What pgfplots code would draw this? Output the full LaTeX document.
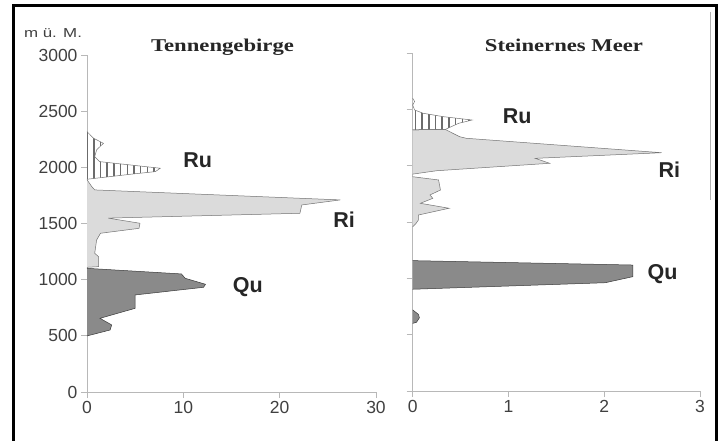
\documentclass[border=0pt]{standalone}
\usepackage{graphicx}
\usepackage{pgfplots}
\pgfplotsset{compat=1.18}
\usetikzlibrary{patterns.meta}
\usepackage{fontspec}
\setmainfont{Liberation Sans}
\newfontfamily\serifb{Liberation Serif}

\definecolor{axgray}{gray}{0.72}
\definecolor{txtgray}{gray}{0.25}
\definecolor{qufill}{gray}{0.54}
\definecolor{rifill}{gray}{0.86}
\definecolor{edge}{gray}{0.45}
\definecolor{hatch}{gray}{0.42}

\pgfplotsset{myaxis/.style={
  scale only axis, axis lines=left,
  axis line style={draw=axgray, line width=0.9bp, -},
  tick style={draw=axgray, line width=0.9bp},
  tick align=outside, major tick length=6bp,
  ymin=0, ymax=3000, ytick={0,500,...,3000},
  clip=false,
  font=\fontsize{17.5bp}{19bp}\selectfont,
  every tick label/.append style={font=\fontsize{17.5bp}{19bp}\selectfont, text=txtgray},
  /pgf/number format/assume math mode=true,
  scaled ticks=false, /pgf/number format/1000 sep={},
  anchor=south west},
  qu/.style={fill=qufill, draw=gray!45!black, line width=0.5bp},
  ri/.style={fill=rifill, draw=edge, line width=0.5bp},
  ru/.style={pattern={Lines[angle=90,distance=6.7bp,line width=1.5bp]}, pattern color=hatch, draw=edge, line width=0.5bp}
}
\tikzset{lab/.style={font=\bfseries\fontsize{21.5bp}{22bp}\selectfont, text=black!85}}

\begin{document}
\begin{tikzpicture}
\path[use as bounding box] (0,0) rectangle (724bp,441bp);

% Tennengebirge
\begin{axis}[myaxis, at={(87bp,49bp)}, width=289bp, height=337bp,
  xmin=0, xmax=30, xtick={0,10,20,30}]
\addplot[qu] coordinates {(0,1101) (9.8,1051) (10.2,1012) (12.3,959) (12.1,932) (5.0,864) (5.0,745) (1.35,656) (2.56,597) (2.4,552) (0,499)};
\addplot[ri] coordinates {(0,1890) (0.5,1828) (0.8,1799) (26.3,1710) (22.3,1665) (22.1,1591) (2.2,1548) (5.5,1502) (5.4,1457) (1.4,1413) (1.0,1353) (0.8,1235) (1.2,1205) (1.2,1116) (0,1110)};
\addplot[ru] coordinates {(0,2318) (0.68,2259) (1.7,2214) (1.0,2155) (0.8,2095) (1.3,2051) (7.6,1992) (7.1,1962) (4.8,1941) (0,1894)};
\node[lab] at (axis cs:11.5,2061) {Ru};
\node[lab] at (axis cs:26.7,1531) {Ri};
\node[lab] at (axis cs:16.7,935) {Qu};
\end{axis}

% Steinernes Meer
\begin{axis}[myaxis, at={(412.7bp,50bp)}, width=287.3bp, height=338bp,
  xmin=0, xmax=3, xtick={0,1,2,3}, yticklabels={}]
\addplot[qu] coordinates {(0,1157) (2.30,1118) (2.30,1015) (2.01,961) (0,903)};
\addplot[qu] coordinates {(0,720) (0.06,680) (0.07,650) (0.04,610) (0,600)};
\addplot[ri] coordinates {(0,2318) (0.34,2322) (0.42,2287) (0.49,2257) (0.56,2243) (2.60,2115) (1.28,2065) (1.43,2021) (0.25,1955) (0,1925)};
\addplot[ri] coordinates {(0,1902) (0.27,1873) (0.29,1784) (0.18,1740) (0.21,1710) (0.08,1666) (0.38,1622) (0.06,1562) (0.06,1518) (0.03,1482) (0,1458)};
\addplot[ru] coordinates {(0,2598) (0.02,2570) (0,2538) (0.02,2494) (0.11,2465) (0.32,2435) (0.62,2405) (0.48,2376) (0.34,2322) (0,2318)};
\node[lab] at (axis cs:1.09,2435) {Ru};
\node[lab] at (axis cs:2.68,1961) {Ri};
\node[lab] at (axis cs:2.61,1034) {Qu};
\end{axis}

% titles and unit label
\node[anchor=base, text=black!85, font=\serifb\bfseries\fontsize{18bp}{20bp}\selectfont] at (222.5bp,389bp) {\scalebox{1.26}[1]{Tennengebirge}};
\node[anchor=base, text=black!85, font=\serifb\bfseries\fontsize{18bp}{20bp}\selectfont] at (564bp,389.3bp) {\scalebox{1.26}[1]{Steinernes Meer}};
\node[text=txtgray, font=\fontsize{13bp}{14bp}\selectfont] at (53bp,408bp) {\scalebox{1.3}[1]{m ü. M.}};

% frame
\draw[line width=3bp] (13.3bp,0) -- (13.3bp,435.7bp) -- (716.7bp,435.7bp) -- (716.7bp,0);
\draw[gray!60, line width=1bp] (710.7bp,429bp) -- (710.7bp,241bp);
\end{tikzpicture}
\end{document}
